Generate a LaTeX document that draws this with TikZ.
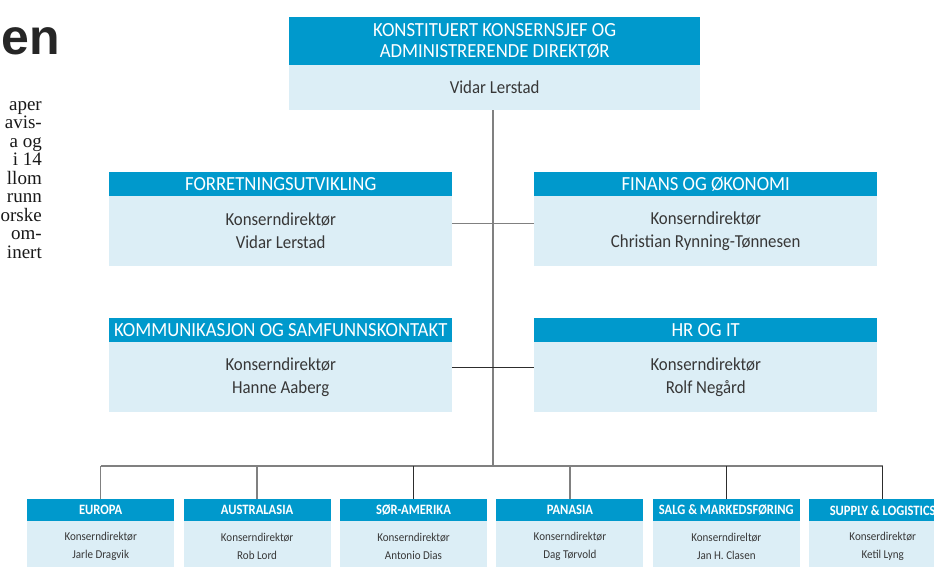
\documentclass[tikz,border=0pt]{standalone}
\usepackage{fontspec}
\setmainfont{Liberation Serif}
\newfontfamily\boxfont[FakeStretch=0.92]{Carlito}
\newfontfamily\headfont[FakeStretch=0.935]{Carlito}
\newfontfamily\smallheadfont[FakeStretch=0.88]{Carlito Bold}
\newfontfamily\titlefont{Liberation Sans}
\newfontfamily\artfont{Liberation Serif}
\definecolor{hblue}{RGB}{0,153,204}
\definecolor{lblue}{RGB}{220,238,246}
\definecolor{txt}{RGB}{55,55,55}
\definecolor{linegray}{RGB}{128,128,128}
\definecolor{linedark}{RGB}{45,45,45}
\tikzset{
  hdr/.style={fill=hblue, text=white, inner sep=0pt, anchor=north west, align=center},
  bodybox/.style={fill=lblue, text=txt, inner sep=0pt, anchor=north west, align=center},
  bighead/.style={font=\headfont\fontsize{20}{21}\selectfont},
  bigbody/.style={font=\boxfont\fontsize{18.3}{21}\selectfont},
  smallhead/.style={font=\smallheadfont\fontsize{14.3}{18}\selectfont},
  smallbody/.style={font=\boxfont\fontsize{12}{18}\selectfont},
  midbox/.style={minimum width=343pt},
  botbox/.style={minimum width=147pt},
  trunk/.style={draw=linegray, line width=1.6pt},
  thin/.style={draw=linedark, line width=1pt},
  thingray/.style={draw=linegray, line width=1.3pt},
  art/.style={anchor=base east, inner sep=0pt, font=\artfont\fontsize{19}{18}\selectfont, text=black!90}
}
\begin{document}
\begin{tikzpicture}[x=1pt,y=-1pt]
\useasboundingbox (0,0) rectangle (934,566);
\clip (0,0) rectangle (934,566);
\fill[white] (0,0) rectangle (934,566);

% article fragment on the left
\node[anchor=base east, inner sep=0pt, font=\titlefont\bfseries\fontsize{50}{50}\selectfont, text=black!85] (title) at (60,54) {en};
\node[art] (l1) at (42,110) {aper};
\node[art] (l2) at (42,128.5) {avis-};
\node[art] (l3) at (42,147) {a og};
\node[art] (l4) at (42,165.5) {i 14};
\node[art] (l5) at (42,184) {llom};
\node[art] (l6) at (42,202.5) {runn};
\node[art] (l7) at (42,221) {orske};
\node[art] (l8) at (42,239.5) {om-};
\node[art] (l9) at (42,258) {inert};

% top box
\node[hdr, bighead, minimum width=411pt, minimum height=48pt] (ceoH) at (289,17) {KONSTITUERT KONSERNSJEF OG\\ADMINISTRERENDE DIREKTØR};
\node[bodybox, bigbody, minimum width=411pt, minimum height=45pt] (ceoB) at (289,65) {Vidar Lerstad};

% row 1
\node[hdr, bighead, midbox, minimum height=24pt] (forH) at (109,172) {FORRETNINGSUTVIKLING};
\node[bodybox, bigbody, midbox, minimum height=70pt] (forB) at (109,196) {Konserndirektør\\[2pt]Vidar Lerstad};
\node[hdr, bighead, midbox, minimum height=24pt] (finH) at (534,172) {FINANS OG ØKONOMI};
\node[bodybox, bigbody, midbox, minimum height=70pt] (finB) at (534,196) {Konserndirektør\\[2pt]Christian Rynning-Tønnesen};

% row 2
\node[hdr, bighead, midbox, minimum height=24pt] (komH) at (109,318) {KOMMUNIKASJON OG SAMFUNNSKONTAKT};
\node[bodybox, bigbody, midbox, minimum height=70pt] (komB) at (109,342) {Konserndirektør\\[2pt]Hanne Aaberg};
\node[hdr, bighead, midbox, minimum height=24pt] (hrH) at (534,318) {HR OG IT};
\node[bodybox, bigbody, midbox, minimum height=70pt] (hrB) at (534,342) {Konserndirektør\\[2pt]Rolf Negård};

% bottom row (bodies extend below the clip so that their text sits lower)
\node[bodybox, smallbody, botbox, minimum height=50pt] (euB) at (27,521) {Konserndirektør\\Jarle Dragvik};
\node[hdr, smallhead, botbox, minimum height=22pt] (euH) at (27,499) {EUROPA};
\node[bodybox, smallbody, botbox, minimum height=50pt] (auB) at (183.4,521) {Konserndirektør\\Rob Lord};
\node[hdr, smallhead, botbox, minimum height=22pt] (auH) at (183.4,499) {AUSTRALASIA};
\node[bodybox, smallbody, botbox, minimum height=50pt] (saB) at (339.8,521) {Konserndirektør\\Antonio Dias};
\node[hdr, smallhead, botbox, minimum height=22pt] (saH) at (339.8,499) {SØR-AMERIKA};
\node[bodybox, smallbody, botbox, minimum height=50pt] (paB) at (496.2,521) {Konserndirektør\\Dag Tørvold};
\node[hdr, smallhead, botbox, minimum height=22pt] (paH) at (496.2,499) {PANASIA};
\node[bodybox, smallbody, botbox, minimum height=50pt] (smB) at (652.6,521) {Konserndireltør\\Jan H. Clasen};
\node[hdr, smallhead, botbox, minimum height=22pt] (smH) at (652.6,499) {SALG \& MARKEDSFØRING};
\node[bodybox, smallbody, botbox, minimum height=50pt] (slB) at (809,521) {Konserdirektør\\Ketil Lyng};
\node[hdr, smallhead, botbox, minimum height=22pt, text depth=-3pt] (slH) at (809,499) {SUPPLY \& LOGISTICS};

% connectors
\coordinate (bus) at (493,466);
\draw[trunk] (ceoB.south -| bus) -- (bus);
\draw[thingray] ([yshift=8pt]forB.east) -- ([yshift=8pt]finB.west);
\draw[thin] ([yshift=10pt]komB.east) -- ([yshift=10pt]hrB.west);
\draw[trunk] (euH.north |- bus) -- (slH.north |- bus);
\draw[thingray] (euH.north) -- (euH.north |- bus);
\draw[thingray] (auH.north) -- (auH.north |- bus);
\draw[thin] (saH.north) -- (saH.north |- bus);
\draw[thingray] (paH.north) -- (paH.north |- bus);
\draw[thin] (smH.north) -- (smH.north |- bus);
\draw[thin] (slH.north) -- (slH.north |- bus);
\end{tikzpicture}
\end{document}
